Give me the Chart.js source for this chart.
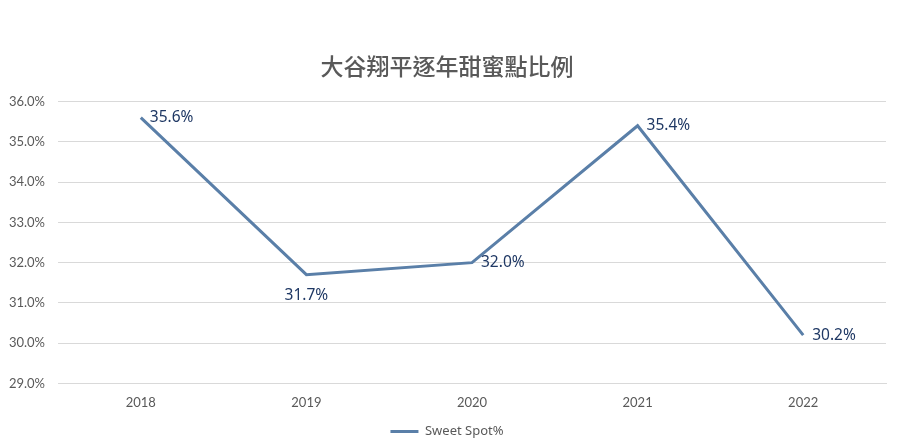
<!DOCTYPE html>
<html>
<head>
<meta charset="utf-8">
<script src="https://cdn.jsdelivr.net/npm/chart.js@4/dist/chart.umd.min.js"></script>
<style>
  html, body { margin: 0; padding: 0; background: #ffffff; }
  #wrap { width: 900px; height: 442px; }
</style>
</head>
<body>
<div id="wrap"><canvas id="c" width="900" height="442"></canvas></div>
<script>
const categories = ['2018', '2019', '2020', '2021', '2022'];
const sweetSpot = [35.6, 31.7, 32.0, 35.4, 30.2];
const labelSides = ['right', 'below', 'right', 'right', 'right'];
const seriesName = 'Sweet Spot%';
const chartTitle = '大谷翔平逐年甜蜜點比例';

const LINE = '#5a7fa8';
const TEXT = '#595959';
const LABEL = '#1f3864';
const GRID = '#d9d9d9';

const valueLabels = {
  id: 'valueLabels',
  afterDatasetsDraw(chart) {
    const ctx = chart.ctx;
    const meta = chart.getDatasetMeta(0);
    ctx.save();
    ctx.font = '15.5px "Noto Sans", "Liberation Sans", sans-serif';
    ctx.fillStyle = LABEL;
    meta.data.forEach((pt, i) => {
      const txt = sweetSpot[i].toFixed(1) + '%';
      if (labelSides[i] === 'below') {
        ctx.textAlign = 'center';
        ctx.textBaseline = 'middle';
        ctx.fillText(txt, pt.x, pt.y + 21);
      } else {
        ctx.textAlign = 'left';
        ctx.textBaseline = 'middle';
        ctx.fillText(txt, pt.x + 9, pt.y);
      }
    });
    ctx.restore();
  }
};

new Chart(document.getElementById('c'), {
  type: 'line',
  data: {
    labels: categories,
    datasets: [{
      label: seriesName,
      data: sweetSpot,
      borderColor: LINE,
      backgroundColor: LINE,
      borderWidth: 3,
      pointRadius: 0,
      pointHoverRadius: 0,
      tension: 0,
      fill: false
    }]
  },
  options: {
    responsive: false,
    animation: false,
    devicePixelRatio: 1,
    layout: { padding: { left: 8, right: 14, top: 0, bottom: -6 } },
    plugins: {
      title: {
        display: true,
        text: chartTitle,
        color: TEXT,
        font: { family: '"Noto Sans CJK TC", "Noto Sans CJK SC", sans-serif', size: 23, weight: '500' },
        padding: { top: 52, bottom: 22 }
      },
      legend: {
        position: 'bottom',
        labels: {
          usePointStyle: true,
          pointStyle: 'line',
          pointStyleWidth: 28,
          color: TEXT,
          font: { family: '"Noto Sans", "Liberation Sans", sans-serif', size: 13 },
          padding: 2
        }
      },
      tooltip: { enabled: false }
    },
    scales: {
      x: {
        offset: true,
        grid: { display: false, drawTicks: false },
        border: { display: true, color: GRID, width: 1 },
        ticks: { color: TEXT, font: { family: 'Lato, "Liberation Sans", sans-serif', size: 13 }, padding: 12 }
      },
      y: {
        min: 29,
        max: 36,
        border: { display: false },
        grid: { color: GRID, lineWidth: 1, drawTicks: false },
        afterFit: scale => { scale.width = 50; },
        ticks: {
          stepSize: 1,
          color: TEXT,
          padding: 13,
          font: { family: 'Lato, "Liberation Sans", sans-serif', size: 13 },
          callback: v => v.toFixed(1) + '%'
        }
      }
    }
  },
  plugins: [valueLabels]
});
</script>
</body>
</html>
